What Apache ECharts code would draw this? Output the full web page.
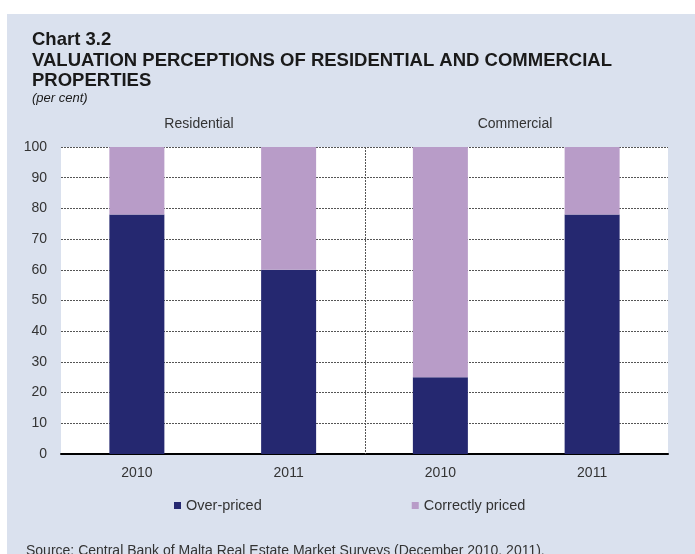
<!DOCTYPE html>
<html>
<head>
<meta charset="utf-8">
<script src="https://cdn.jsdelivr.net/npm/echarts@6/dist/echarts.min.js"></script>
<style>html,body{margin:0;padding:0;background:#fff}#c{width:695px;height:554px}</style>
</head>
<body>
<div id="c"></div>
<script>
var categories = ['2010', '2011', '2010', '2011'];
var groups = ['Residential', 'Commercial'];
var overPriced = [78, 60, 25, 78];
var correctlyPriced = [22, 40, 75, 22];
var seriesNames = ['Over-priced', 'Correctly priced'];
var titleLines = ['Chart 3.2', 'VALUATION PERCEPTIONS OF RESIDENTIAL AND COMMERCIAL', 'PROPERTIES'];
var unitText = '(per cent)';
var sourceText = 'Source: Central Bank of Malta Real Estate Market Surveys (December 2010, 2011).';

var chart = echarts.init(document.getElementById('c'), null, {renderer: 'canvas'});
var font = 'Liberation Sans, Arial, sans-serif';
var option = {
  animation: false,
  textStyle: {fontFamily: font},
  graphic: [
    {id: 'bg', type: 'rect', z: -10, shape: {x: 7, y: 14, width: 688, height: 540}, style: {fill: '#dae1ee'}},
    {id: 't', type: 'text', left: 32, top: 30, style: {text: titleLines.join('\n'), font: 'bold 18.5px ' + font, lineHeight: 20.5, fill: '#1a1a1a'}},
    {id: 'u', type: 'text', left: 32, top: 92, style: {text: unitText, font: 'italic 13px ' + font, fill: '#1a1a1a'}},
    {id: 'g0', type: 'text', x: 199, y: 124, style: {text: groups[0], font: '14px ' + font, fill: '#333', align: 'center', verticalAlign: 'middle'}},
    {id: 'g1', type: 'text', x: 515, y: 124, style: {text: groups[1], font: '14px ' + font, fill: '#333', align: 'center', verticalAlign: 'middle'}},
    {id: 's', type: 'text', left: 26, top: 544, style: {text: sourceText, font: '14px ' + font, fill: '#333'}}
  ],
  legend: {
    left: 174, top: 498, padding: 0, itemWidth: 7, itemHeight: 7, itemGap: 150, icon: 'rect',
    textStyle: {fontSize: 14.5, color: '#333', fontFamily: font},
    data: seriesNames
  },
  grid: {left: 61, right: 27, top: 147, bottom: 100, show: true, backgroundColor: '#fff', borderWidth: 0, containLabel: false},
  xAxis: {
    type: 'category', data: categories,
    axisLine: {show: true, lineStyle: {color: '#000', width: 2}},
    axisTick: {show: false},
    axisLabel: {fontSize: 14, color: '#333', margin: 12},
    splitLine: {show: false}
  },
  yAxis: {
    type: 'value', min: 0, max: 100, interval: 10,
    axisLine: {show: false}, axisTick: {show: false},
    axisLabel: {fontSize: 14, color: '#333', margin: 14},
    splitLine: {show: true, lineStyle: {color: '#555', type: [2, 1], width: 1}}
  },
  series: [
    {name: seriesNames[0], type: 'bar', stack: 'a', data: overPriced, barWidth: 55, itemStyle: {color: '#252870'}},
    {name: seriesNames[1], type: 'bar', stack: 'a', data: correctlyPriced, barWidth: 55, itemStyle: {color: '#b89cc8'}}
  ]
};
chart.setOption(option);
// Group separator between category 1 and 2, positioned through the axis scales
var xa = chart.convertToPixel({xAxisIndex: 0}, 1);
var xb = chart.convertToPixel({xAxisIndex: 0}, 2);
var yTop = chart.convertToPixel({yAxisIndex: 0}, 100);
var yBot = chart.convertToPixel({yAxisIndex: 0}, 0);
var xm = Math.round((xa + xb) / 2) + 0.5;
chart.setOption({graphic: [{id: 'sep', type: 'line', z: 1, shape: {x1: xm, y1: yTop, x2: xm, y2: yBot}, style: {stroke: '#555', lineWidth: 1, lineDash: [2, 1]}}]});
</script>
</body>
</html>
